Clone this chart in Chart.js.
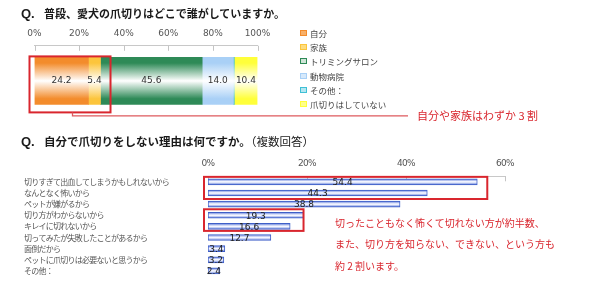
<!DOCTYPE html>
<html><head><meta charset="utf-8">
<script src="https://cdn.jsdelivr.net/npm/chart.js@4.4.1/dist/chart.umd.min.js"></script>
<style>
html,body{margin:0;padding:0;background:#fff;}
#wrap{position:relative;width:600px;height:282px;overflow:hidden;font-family:"Noto Sans CJK JP",sans-serif;}
canvas{position:absolute;left:0;top:0;}
.title{position:absolute;left:21px;font:bold 11.5px/16px "Noto Sans CJK JP";color:#1a1a1a;white-space:nowrap;}
.title .q{font-family:"Liberation Sans";font-size:13px;display:inline-block;width:23px;}
.title .n{font-weight:normal;}
.note{position:absolute;color:#D9262E;white-space:nowrap;font-family:"Noto Sans CJK JP";}
.leg{position:absolute;left:300px;font:8.5px/10px "Noto Sans CJK JP";color:#444;white-space:nowrap;}
.leg i{display:inline-block;width:5px;height:4px;border:1px solid;margin-right:3px;vertical-align:1px;}
</style></head><body>
<div id="wrap">
<canvas id="c1" width="600" height="282"></canvas>
<canvas id="c2" width="600" height="282"></canvas>
<div class="title" style="top:5px;font-size:11px"><span class="q">Q.</span>普段、愛犬の爪切りはどこで誰がしていますか。</div>
<div class="title" style="top:133px"><span class="q">Q.</span>自分で爪切りをしない理由は何ですか。<span class="n">（複数回答）</span></div>
<div class="note" style="left:417px;top:107px;font-size:11px;line-height:16px;">自分や家族はわずか 3 割</div>
<div class="note" style="left:335px;top:212px;font-size:10px;line-height:21.3px;">切ったこともなく怖くて切れない方が約半数、<br>また、切り方を知らない、できない、という方も<br>約 2 割います。</div>
<div id="legend"></div>
</div>
<script>
// ---- Data: chart 1 (stacked share) ----
const shareCategories = ['自分','家族','トリミングサロン','動物病院','その他：','爪切りはしていない'];
const shareValues = [24.2, 5.4, 45.6, 14.0, 0.4, 10.4];
const shareColors = ['#F38C2C','#FCC53C','#2E8A57','#A9D0F6','#3FC0D6','#FFFF3A'];
const shareLegendFill = ['#F7B06A','#FDDC80','#CFE5D7','#D6E9FB','#B5E7F1','#FFFF8A'];
const shareTicks = [0,20,40,60,80,100];

// ---- Data: chart 2 (reasons) ----
const reasonCategories = [
  '切りすぎて出血してしまうかもしれないから',
  'なんとなく怖いから',
  'ペットが嫌がるから',
  '切り方がわからないから',
  'キレイに切れないから',
  '切ってみたが失敗したことがあるから',
  '面倒だから',
  'ペットに爪切りは必要ないと思うから',
  'その他：'
];
const reasonValues = [54.4, 44.3, 38.8, 19.3, 16.6, 12.7, 3.4, 3.2, 2.4];
const reasonTicks = [0,20,40,60];

// legend
const legendEl = document.getElementById('legend');
shareCategories.forEach((name,i)=>{
  const d = document.createElement('div');
  d.className = 'leg';
  d.style.top = (28 + i*14.2) + 'px';
  d.innerHTML = '<i style="border-color:'+shareColors[i]+';background:'+shareLegendFill[i]+'"></i>' + name;
  legendEl.appendChild(d);
});

const tickFont = {family:'DejaVu Sans', size:9};

function tickMarks(){
  return {
    id:'tickMarks',
    beforeDatasetsDraw(chart){
      const x = chart.scales.x, ctx = chart.ctx, y0 = chart.chartArea.top;
      ctx.save(); ctx.strokeStyle = '#c4c4c4'; ctx.lineWidth = 1;
      x.ticks.forEach(t=>{
        const px = Math.round(x.getPixelForValue(t.value)) + 0.5;
        ctx.beginPath(); ctx.moveTo(px, y0); ctx.lineTo(px, y0 + 5); ctx.stroke();
      });
      ctx.restore();
    }
  };
}
function valueLabels(color, dy){
  return {
    id:'valueLabels',
    afterDatasetsDraw(chart){
      const ctx = chart.ctx;
      ctx.save(); ctx.font = '9px "DejaVu Sans"'; ctx.fillStyle = color;
      ctx.textAlign = 'center'; ctx.textBaseline = 'middle';
      chart.data.datasets.forEach((ds,i)=>{
        chart.getDatasetMeta(i).data.forEach((el,j)=>{
          const v = ds.data[j];
          if (v < 1) return;
          ctx.fillText(v.toFixed(1), (el.x + el.base)/2, el.y + dy);
        });
      });
      ctx.restore();
    }
  };
}
// tighter letter pitch for the Japanese category labels (axis drawing only)
const tightText = {
  id:'tightText',
  beforeDraw(chart){ chart.ctx.letterSpacing = '-0.75px'; },
  beforeDatasetsDraw(chart){ chart.ctx.letterSpacing = '0px'; }
};

// ---- Chart 1 ----
function barGradient(ctx, color){
  const chart = ctx.chart;
  if (!chart.chartArea) return color;
  const c = chart.scales.y.getPixelForValue(0);
  const g = chart.ctx.createLinearGradient(0, c - 23.5, 0, c + 23.5);
  g.addColorStop(0, color); g.addColorStop(0.12, color);
  g.addColorStop(0.5, '#ffffff');
  g.addColorStop(0.88, color); g.addColorStop(1, color);
  return g;
}
const box1 = {
  id:'box1',
  afterDraw(chart){
    const x = chart.scales.x, y = chart.scales.y, ctx = chart.ctx;
    const c = y.getPixelForValue(0);
    const l = x.getPixelForValue(0) - 5;
    const r = x.getPixelForValue(shareValues[0] + shareValues[1]) + 10;
    const t = c - 24.5, b = c + 31.5;
    ctx.save(); ctx.strokeStyle = '#D9262E'; ctx.lineWidth = 2;
    ctx.strokeRect(l, t, r - l, b - t);
    ctx.strokeStyle = '#DE5A5E'; ctx.lineWidth = 1.3;
    ctx.beginPath(); ctx.moveTo(l + 43, b); ctx.lineTo(l + 43, b + 3.5); ctx.lineTo(408, b + 3.5); ctx.stroke();
    ctx.restore();
  }
};
new Chart(document.getElementById('c1'), {
  type:'bar',
  data:{
    labels:[''],
    datasets: shareCategories.map((name,i)=>({
      label:name,
      data:[shareValues[i]],
      backgroundColor:(ctx)=>barGradient(ctx, shareColors[i]),
      borderWidth:0,
      barThickness:47
    }))
  },
  options:{
    indexAxis:'y', responsive:false, animation:false, devicePixelRatio:1,
    layout:{padding:{left:34.5, right:342.5, top:21, bottom:166}},
    plugins:{legend:{display:false}, tooltip:{enabled:false}},
    scales:{
      x:{position:'top', stacked:true, min:0, max:100,
         afterBuildTicks:(s)=>{ s.ticks = shareTicks.map(v=>({value:v})); },
         ticks:{font:tickFont, color:'#555', padding:7, callback:(v)=>v+'%'},
         grid:{display:false, drawTicks:false},
         border:{display:true, color:'#c8c8c8'}},
      y:{display:false, stacked:true}
    }
  },
  plugins:[tickMarks(), valueLabels('#333', 0), box1]
});

// ---- Chart 2 ----
function thinGradient(ctx){
  const chart = ctx.chart;
  if (!chart.chartArea) return '#dfe4f8';
  const c = chart.scales.y.getPixelForValue(ctx.dataIndex);
  const g = chart.ctx.createLinearGradient(0, c - 3, 0, c + 3);
  g.addColorStop(0, '#5574d6'); g.addColorStop(0.45, '#f4f6ff');
  g.addColorStop(0.55, '#f4f6ff'); g.addColorStop(1, '#5574d6');
  return g;
}
const box2 = {
  id:'box2',
  afterDraw(chart){
    const x = chart.scales.x, y = chart.scales.y, ctx = chart.ctx;
    ctx.save(); ctx.strokeStyle = '#D9262E'; ctx.lineWidth = 2;
    const l = x.getPixelForValue(0) - 4;
    let t = y.getPixelForValue(0) - 5, b = y.getPixelForValue(1) + 6;
    let r = x.getPixelForValue(reasonValues[0]) + 10;
    ctx.strokeRect(l, t, r - l, b - t);
    t = y.getPixelForValue(3) - 6; b = y.getPixelForValue(4) + 4.5;
    r = x.getPixelForValue(reasonValues[3]);
    ctx.strokeRect(l, t, r - l, b - t);
    ctx.restore();
  }
};
new Chart(document.getElementById('c2'), {
  type:'bar',
  data:{
    labels:reasonCategories,
    datasets:[{
      label:'理由',
      data:reasonValues,
      backgroundColor:thinGradient,
      borderColor:'#3F5FC8', borderWidth:1, borderSkipped:false,
      barThickness:6
    }]
  },
  options:{
    indexAxis:'y', responsive:false, animation:false, devicePixelRatio:1,
    layout:{padding:{left:24, right:95, top:151.5, bottom:5.5}},
    plugins:{legend:{display:false}, tooltip:{enabled:false}},
    scales:{
      x:{position:'top', min:0, max:60,
         afterBuildTicks:(s)=>{ s.ticks = reasonTicks.map(v=>({value:v})); },
         ticks:{font:tickFont, color:'#555', padding:7, callback:(v)=>v+'%'},
         grid:{display:false, drawTicks:false},
         border:{display:true, color:'#c8c8c8'}},
      y:{afterFit:(s)=>{ s.width = 184; },
         ticks:{autoSkip:false, crossAlign:'far', font:{family:'Noto Sans CJK JP', size:8}, color:'#555', padding:0},
         grid:{display:false, drawTicks:false},
         border:{display:false}}
    }
  },
  plugins:[tightText, tickMarks(), valueLabels('#222', 1), box2]
});
</script>
</body></html>
